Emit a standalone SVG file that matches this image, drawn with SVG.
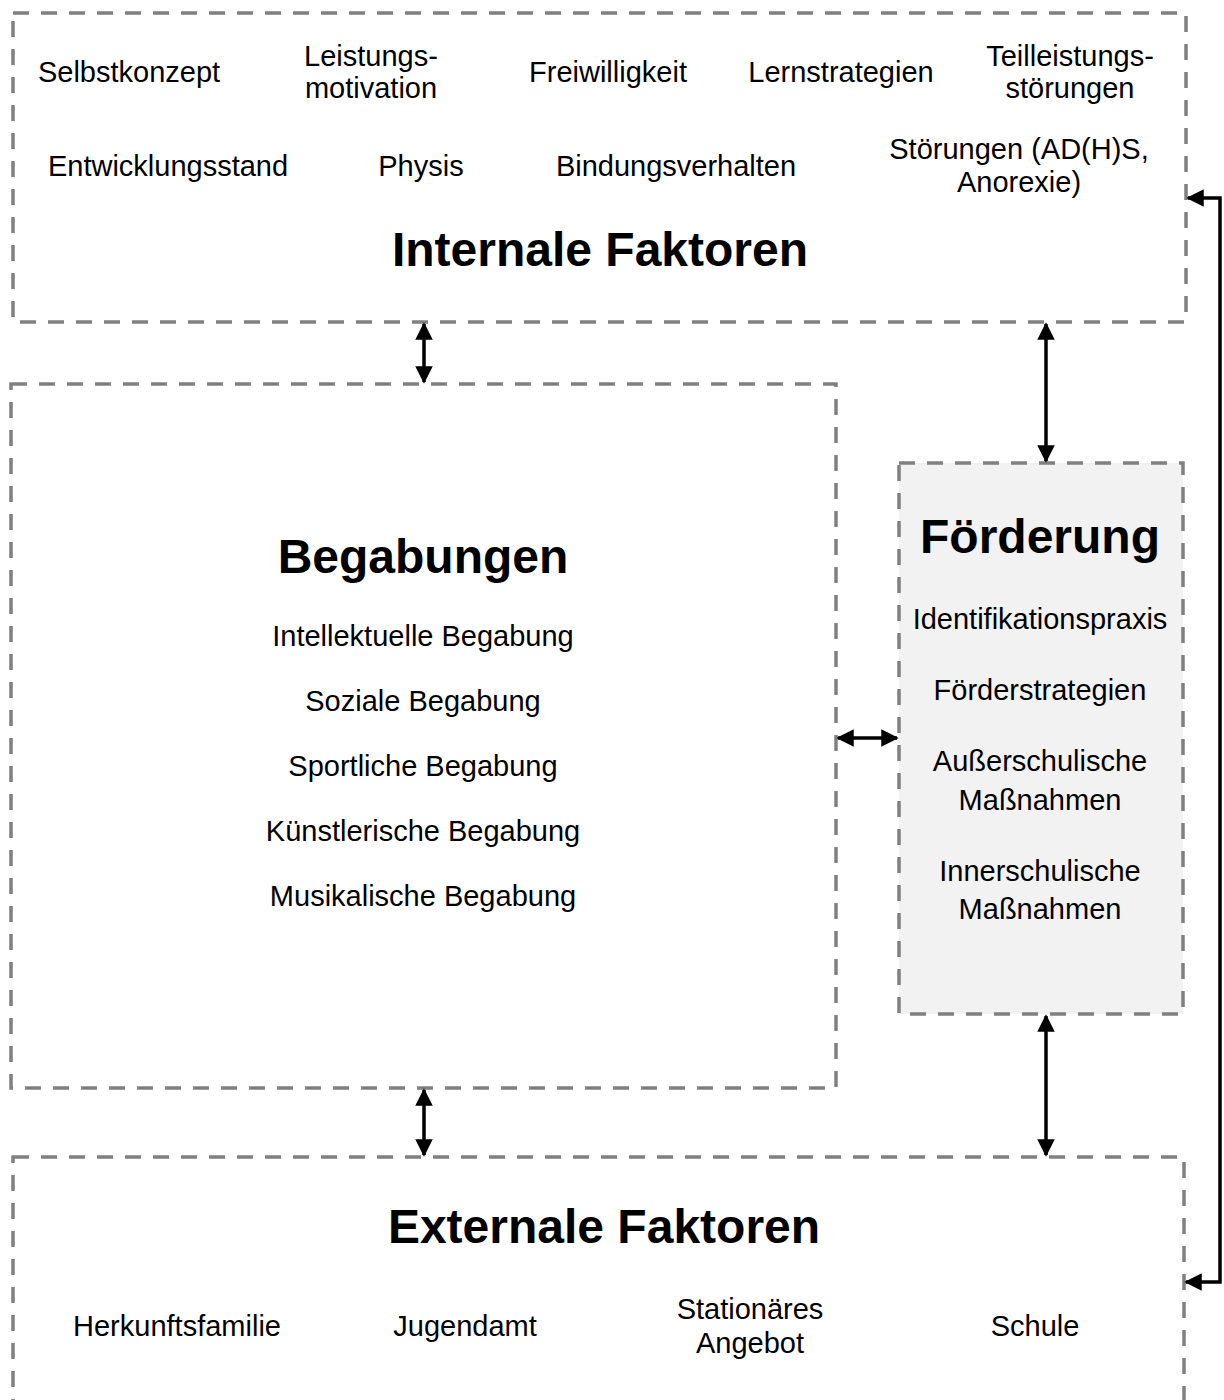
<svg xmlns="http://www.w3.org/2000/svg" width="1224" height="1400" viewBox="0 0 1224 1400">
  <style>
    .box { fill: #ffffff; stroke: #808080; stroke-width: 3.5; stroke-dasharray: 16 12; }
    .box.shaded { fill: #f2f2f2; }
    text { font-family: "Liberation Sans", Arial, sans-serif; fill: #000; text-anchor: middle; }
    .item { font-size: 29px; }
    .head { font-size: 48px; font-weight: bold; }
    .conn { fill: none; stroke: #000; stroke-width: 3.5; }
  </style>
  <defs>
    <marker id="arrow" viewBox="0 0 10 10" refX="9" refY="5" markerWidth="5" markerHeight="5" orient="auto-start-reverse">
      <path d="M0,0 L10,5 L0,10 z" fill="#000"/>
    </marker>
  </defs>

  <g id="internale">
    <rect class="box" x="13" y="13" width="1173" height="309"/>
    <text class="item" x="129" y="82">Selbstkonzept</text>
    <text class="item" x="371" y="66">Leistungs-</text>
    <text class="item" x="371" y="98">motivation</text>
    <text class="item" x="608" y="82">Freiwilligkeit</text>
    <text class="item" x="841" y="82">Lernstrategien</text>
    <text class="item" x="1070" y="66">Teilleistungs-</text>
    <text class="item" x="1070" y="98">störungen</text>
    <text class="item" x="168" y="176">Entwicklungsstand</text>
    <text class="item" x="421" y="176">Physis</text>
    <text class="item" x="676" y="176">Bindungsverhalten</text>
    <text class="item" x="1019" y="159">Störungen (AD(H)S,</text>
    <text class="item" x="1019" y="192">Anorexie)</text>
    <text class="head" x="600" y="266">Internale Faktoren</text>
  </g>

  <g id="begabungen">
    <rect class="box" x="11" y="384" width="825" height="704"/>
    <text class="head" x="423" y="573">Begabungen</text>
    <text class="item" x="423" y="646">Intellektuelle Begabung</text>
    <text class="item" x="423" y="711">Soziale Begabung</text>
    <text class="item" x="423" y="776">Sportliche Begabung</text>
    <text class="item" x="423" y="841">Künstlerische Begabung</text>
    <text class="item" x="423" y="906">Musikalische Begabung</text>
  </g>

  <g id="foerderung">
    <rect class="box shaded" x="899" y="463" width="284" height="551"/>
    <text class="head" x="1040" y="553">Förderung</text>
    <text class="item" x="1040" y="629">Identifikationspraxis</text>
    <text class="item" x="1040" y="700">Förderstrategien</text>
    <text class="item" x="1040" y="771">Außerschulische</text>
    <text class="item" x="1040" y="810">Maßnahmen</text>
    <text class="item" x="1040" y="881">Innerschulische</text>
    <text class="item" x="1040" y="919">Maßnahmen</text>
  </g>

  <g id="externale">
    <rect class="box" x="13" y="1157" width="1171" height="260"/>
    <text class="head" x="604" y="1243">Externale Faktoren</text>
    <text class="item" x="177" y="1336">Herkunftsfamilie</text>
    <text class="item" x="465" y="1336">Jugendamt</text>
    <text class="item" x="750" y="1319">Stationäres</text>
    <text class="item" x="750" y="1353">Angebot</text>
    <text class="item" x="1035" y="1336">Schule</text>
  </g>

  <g id="connectors">
    <path class="conn" d="M424,324 L424,382" marker-start="url(#arrow)" marker-end="url(#arrow)"/>
    <path class="conn" d="M1046,324 L1046,461" marker-start="url(#arrow)" marker-end="url(#arrow)"/>
    <path class="conn" d="M838,738 L897,738" marker-start="url(#arrow)" marker-end="url(#arrow)"/>
    <path class="conn" d="M1046,1016 L1046,1155" marker-start="url(#arrow)" marker-end="url(#arrow)"/>
    <path class="conn" d="M424,1090 L424,1155" marker-start="url(#arrow)" marker-end="url(#arrow)"/>
    <path class="conn" d="M1188,198 L1220,198 L1220,1282 L1186,1282" marker-start="url(#arrow)" marker-end="url(#arrow)"/>
  </g>
</svg>
